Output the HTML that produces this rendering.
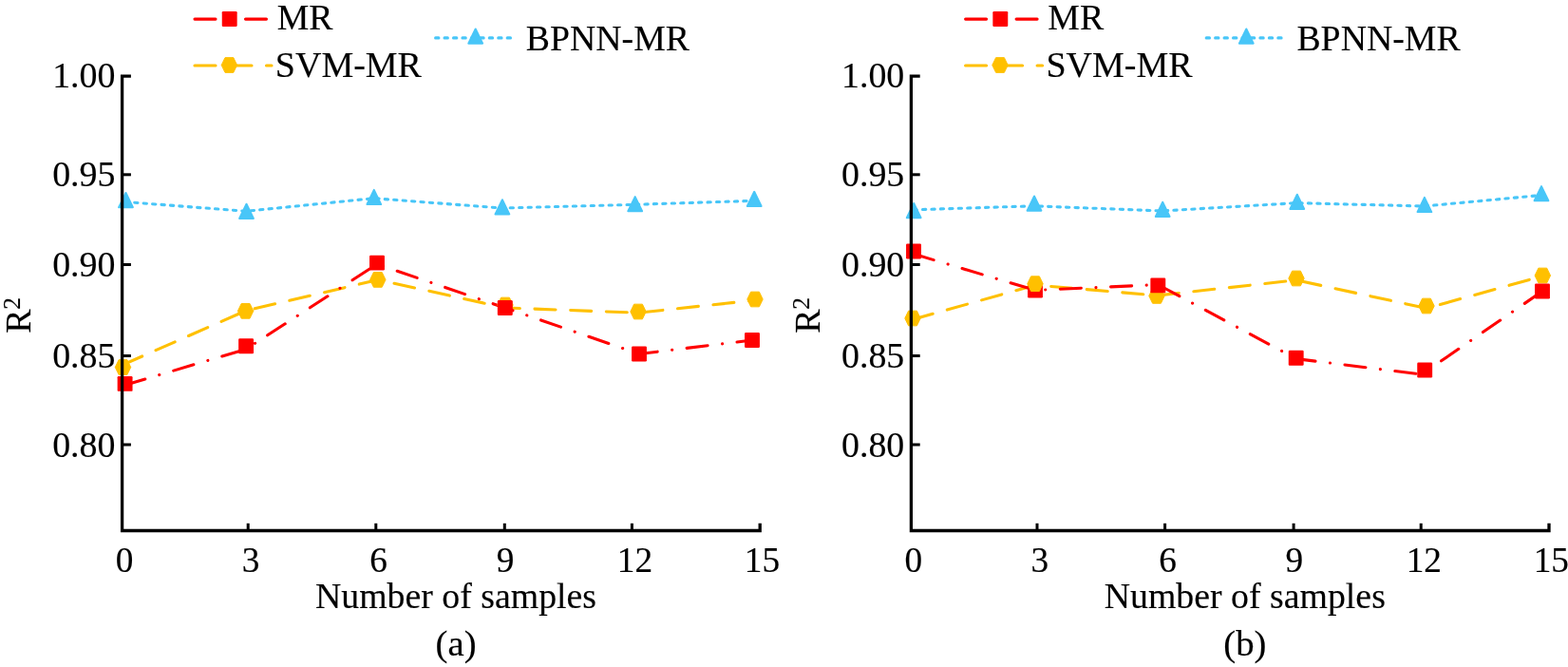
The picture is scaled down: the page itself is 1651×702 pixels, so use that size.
<!DOCTYPE html>
<html><head><meta charset="utf-8"><title>R2 vs number of samples</title>
<style>
html,body{margin:0;padding:0;background:#fff;}
body{width:1651px;height:702px;overflow:hidden;}
svg{display:block;}
text{font-family:"Liberation Serif","Times New Roman",serif;font-size:38px;fill:#000;stroke:#000;stroke-width:0.15px;}
</style></head><body>
<svg width="1651" height="702" viewBox="0 0 1651 702">
<rect width="1651" height="702" fill="#fff"/>
<g id="chart-a">
<path d="M132.30,212.50 L259.00,222.30 L393.60,208.70 L528.70,219.00 L668.50,215.30 L794.00,211.30" fill="none" stroke="#48C6F8" stroke-width="3.1" stroke-dasharray="3.3 6.15" stroke-dashoffset="0" stroke-linecap="round" stroke-linejoin="round"/>
<path d="M129.50,383.80 L259.00,327.00 L398.00,294.50 L532.00,324.00 L672.00,329.20 L795.00,316.00" fill="none" stroke="#FFC000" stroke-width="3.1" stroke-dasharray="22.0 15.7" stroke-dashoffset="0" stroke-linecap="round" stroke-linejoin="round"/>
<path d="M131.60,405.30 L259.00,367.50 L397.00,278.00 L531.80,324.00 L673.00,372.50 L792.00,358.00" fill="none" stroke="#FF0000" stroke-width="3.1" stroke-dasharray="22.1 15.55 0.1 15.55" stroke-dashoffset="0" stroke-linecap="round" stroke-linejoin="round"/>
<polygon points="132.50,203.00 139.90,218.20 125.10,218.20" fill="#48C6F8" stroke="#48C6F8" stroke-width="2" stroke-linejoin="round"/>
<polygon points="259.50,214.70 266.90,229.90 252.10,229.90" fill="#48C6F8" stroke="#48C6F8" stroke-width="2" stroke-linejoin="round"/>
<polygon points="393.80,199.90 401.20,215.10 386.40,215.10" fill="#48C6F8" stroke="#48C6F8" stroke-width="2" stroke-linejoin="round"/>
<polygon points="528.90,210.20 536.30,225.40 521.50,225.40" fill="#48C6F8" stroke="#48C6F8" stroke-width="2" stroke-linejoin="round"/>
<polygon points="668.70,207.10 676.10,222.30 661.30,222.30" fill="#48C6F8" stroke="#48C6F8" stroke-width="2" stroke-linejoin="round"/>
<polygon points="794.20,201.80 801.60,217.00 786.80,217.00" fill="#48C6F8" stroke="#48C6F8" stroke-width="2" stroke-linejoin="round"/>
<polygon points="137.70,386.50 133.90,394.35 125.10,394.35 121.30,386.50 125.10,378.65 133.90,378.65" fill="#FFC000" stroke="#FFC000" stroke-width="1" stroke-linejoin="round"/>
<polygon points="266.80,327.30 263.00,335.15 254.20,335.15 250.40,327.30 254.20,319.45 263.00,319.45" fill="#FFC000" stroke="#FFC000" stroke-width="1" stroke-linejoin="round"/>
<polygon points="406.00,294.40 402.20,302.25 393.40,302.25 389.60,294.40 393.40,286.55 402.20,286.55" fill="#FFC000" stroke="#FFC000" stroke-width="1" stroke-linejoin="round"/>
<polygon points="540.20,321.00 536.40,328.85 527.60,328.85 523.80,321.00 527.60,313.15 536.40,313.15" fill="#FFC000" stroke="#FFC000" stroke-width="1" stroke-linejoin="round"/>
<polygon points="680.20,328.00 676.40,335.85 667.60,335.85 663.80,328.00 667.60,320.15 676.40,320.15" fill="#FFC000" stroke="#FFC000" stroke-width="1" stroke-linejoin="round"/>
<polygon points="803.20,315.00 799.40,322.85 790.60,322.85 786.80,315.00 790.60,307.15 799.40,307.15" fill="#FFC000" stroke="#FFC000" stroke-width="1" stroke-linejoin="round"/>
<rect x="123.65" y="395.95" width="15.9" height="15.9" rx="1.2" fill="#FF0000"/>
<rect x="251.15" y="356.35" width="15.9" height="15.9" rx="1.2" fill="#FF0000"/>
<rect x="389.05" y="268.65" width="15.9" height="15.9" rx="1.2" fill="#FF0000"/>
<rect x="523.85" y="316.05" width="15.9" height="15.9" rx="1.2" fill="#FF0000"/>
<rect x="665.05" y="364.55" width="15.9" height="15.9" rx="1.2" fill="#FF0000"/>
<rect x="784.05" y="350.05" width="15.9" height="15.9" rx="1.2" fill="#FF0000"/>
<path d="M137.90,80.2 H128.60 V558.5 H800.20 V550.8" fill="none" stroke="#000" stroke-width="3.3" stroke-linejoin="miter"/>
<path d="M128.60,183.8 h9.3" stroke="#000" stroke-width="3" fill="none"/>
<path d="M128.60,278.5 h9.3" stroke="#000" stroke-width="3" fill="none"/>
<path d="M128.60,374.5 h9.3" stroke="#000" stroke-width="3" fill="none"/>
<path d="M128.60,468 h9.3" stroke="#000" stroke-width="3" fill="none"/>
<path d="M261.20,558.5 v-7.7" stroke="#000" stroke-width="3" fill="none"/>
<path d="M395.80,558.5 v-7.7" stroke="#000" stroke-width="3" fill="none"/>
<path d="M531.30,558.5 v-7.7" stroke="#000" stroke-width="3" fill="none"/>
<path d="M665.40,558.5 v-7.7" stroke="#000" stroke-width="3" fill="none"/>
<text transform="translate(121.50 91.60) scale(0.99 1)" text-anchor="end" style="font-size:38.3px">1.00</text>
<text transform="translate(121.50 196.40) scale(0.99 1)" text-anchor="end" style="font-size:38.3px">0.95</text>
<text transform="translate(121.50 290.60) scale(0.99 1)" text-anchor="end" style="font-size:38.3px">0.90</text>
<text transform="translate(121.50 387.00) scale(0.99 1)" text-anchor="end" style="font-size:38.3px">0.85</text>
<text transform="translate(121.50 480.50) scale(0.99 1)" text-anchor="end" style="font-size:38.3px">0.80</text>
<text transform="translate(131.00 602.30) scale(0.975 1)" text-anchor="middle" style="font-size:38.3px">0</text>
<text transform="translate(264.00 602.30) scale(0.975 1)" text-anchor="middle" style="font-size:38.3px">3</text>
<text transform="translate(398.70 602.30) scale(0.975 1)" text-anchor="middle" style="font-size:38.3px">6</text>
<text transform="translate(532.00 602.30) scale(0.975 1)" text-anchor="middle" style="font-size:38.3px">9</text>
<text transform="translate(668.50 602.30) scale(0.975 1)" text-anchor="middle" style="font-size:38.3px">12</text>
<text transform="translate(802.50 602.30) scale(0.975 1)" text-anchor="middle" style="font-size:38.3px">15</text>
<text transform="translate(480.00 639.70) scale(1.006 1)" text-anchor="middle" style="font-size:37.6px">Number of samples</text>
<text transform="translate(480.10 689.90) scale(1.03 1)" text-anchor="middle" style="font-size:37.6px">(a)</text>
<text transform="translate(32.30 350.7) rotate(-90) scale(0.995 1)" style="font-size:38px">R<tspan dx="-0.3" dy="-11" style="font-size:25.6px">2</tspan></text>
<path d="M205,20.1 H227M258.5,20.1 H280.5" stroke="#FF0000" stroke-width="3.1" stroke-linecap="round" fill="none"/>
<rect x="233.75" y="12.05" width="15.9" height="15.9" rx="1.2" fill="#FF0000"/>
<text transform="translate(291.70 31.30) scale(0.995 1)" text-anchor="start" style="font-size:38px">MR</text>
<path d="M205,69.0 H227M245,69.0 H265M280.5,69.0 H286" stroke="#FFC000" stroke-width="3.1" stroke-linecap="round" fill="none"/>
<polygon points="249.60,68.50 245.80,76.35 237.00,76.35 233.20,68.50 237.00,60.65 245.80,60.65" fill="#FFC000" stroke="#FFC000" stroke-width="1" stroke-linejoin="round"/>
<text transform="translate(289.80 80.50) scale(1.0 1)" text-anchor="start" style="font-size:38px">SVM-MR</text>
<path d="M458.6,39.9 H539.5" stroke="#48C6F8" stroke-width="3.1" stroke-dasharray="3.3 6.15" stroke-linecap="round" fill="none"/>
<polygon points="500.70,30.50 508.10,45.70 493.30,45.70" fill="#48C6F8" stroke="#48C6F8" stroke-width="2" stroke-linejoin="round"/>
<text transform="translate(553.80 52.70) scale(0.995 1)" text-anchor="start" style="font-size:38px">BPNN-MR</text>
</g>
<g id="chart-b">
<path d="M962.00,220.80 L1088.80,216.80 L1224.00,222.00 L1365.60,213.60 L1499.70,217.00 L1622.80,205.50" fill="none" stroke="#48C6F8" stroke-width="3.1" stroke-dasharray="3.3 6.15" stroke-dashoffset="0" stroke-linecap="round" stroke-linejoin="round"/>
<path d="M961.00,336.30 L1090.00,300.00 L1218.00,311.00 L1365.00,294.80 L1502.00,324.50 L1624.30,290.50" fill="none" stroke="#FFC000" stroke-width="3.1" stroke-dasharray="22.0 15.7" stroke-dashoffset="0" stroke-linecap="round" stroke-linejoin="round"/>
<path d="M962.00,267.30 L1090.00,305.50 L1219.30,299.60 L1364.70,377.60 L1497.00,394.00 L1624.00,306.50" fill="none" stroke="#FF0000" stroke-width="3.1" stroke-dasharray="22.1 15.55 0.1 15.55" stroke-dashoffset="0" stroke-linecap="round" stroke-linejoin="round"/>
<polygon points="962.20,214.00 969.60,229.20 954.80,229.20" fill="#48C6F8" stroke="#48C6F8" stroke-width="2" stroke-linejoin="round"/>
<polygon points="1089.00,206.50 1096.40,221.70 1081.60,221.70" fill="#48C6F8" stroke="#48C6F8" stroke-width="2" stroke-linejoin="round"/>
<polygon points="1224.20,212.70 1231.60,227.90 1216.80,227.90" fill="#48C6F8" stroke="#48C6F8" stroke-width="2" stroke-linejoin="round"/>
<polygon points="1365.80,204.70 1373.20,219.90 1358.40,219.90" fill="#48C6F8" stroke="#48C6F8" stroke-width="2" stroke-linejoin="round"/>
<polygon points="1499.90,207.90 1507.30,223.10 1492.50,223.10" fill="#48C6F8" stroke="#48C6F8" stroke-width="2" stroke-linejoin="round"/>
<polygon points="1623.00,196.10 1630.40,211.30 1615.60,211.30" fill="#48C6F8" stroke="#48C6F8" stroke-width="2" stroke-linejoin="round"/>
<polygon points="969.20,335.00 965.40,342.85 956.60,342.85 952.80,335.00 956.60,327.15 965.40,327.15" fill="#FFC000" stroke="#FFC000" stroke-width="1" stroke-linejoin="round"/>
<polygon points="1226.20,311.40 1222.40,319.25 1213.60,319.25 1209.80,311.40 1213.60,303.55 1222.40,303.55" fill="#FFC000" stroke="#FFC000" stroke-width="1" stroke-linejoin="round"/>
<polygon points="1373.20,293.00 1369.40,300.85 1360.60,300.85 1356.80,293.00 1360.60,285.15 1369.40,285.15" fill="#FFC000" stroke="#FFC000" stroke-width="1" stroke-linejoin="round"/>
<polygon points="1510.20,322.00 1506.40,329.85 1497.60,329.85 1493.80,322.00 1497.60,314.15 1506.40,314.15" fill="#FFC000" stroke="#FFC000" stroke-width="1" stroke-linejoin="round"/>
<polygon points="1632.50,290.00 1628.70,297.85 1619.90,297.85 1616.10,290.00 1619.90,282.15 1628.70,282.15" fill="#FFC000" stroke="#FFC000" stroke-width="1" stroke-linejoin="round"/>
<rect x="954.05" y="256.55" width="15.9" height="15.9" rx="1.2" fill="#FF0000"/>
<rect x="1082.05" y="297.55" width="15.9" height="15.9" rx="1.2" fill="#FF0000"/>
<rect x="1211.35" y="292.45" width="15.9" height="15.9" rx="1.2" fill="#FF0000"/>
<rect x="1356.75" y="368.75" width="15.9" height="15.9" rx="1.2" fill="#FF0000"/>
<rect x="1492.25" y="381.55" width="15.9" height="15.9" rx="1.2" fill="#FF0000"/>
<rect x="1616.05" y="298.55" width="15.9" height="15.9" rx="1.2" fill="#FF0000"/>
<polygon points="1098.20,298.70 1094.40,306.55 1085.60,306.55 1081.80,298.70 1085.60,290.85 1094.40,290.85" fill="#FFC000" stroke="#FFC000" stroke-width="1" stroke-linejoin="round"/>
<path d="M968.70,80.2 H959.40 V558.5 H1631.00 V550.8" fill="none" stroke="#000" stroke-width="3.3" stroke-linejoin="miter"/>
<path d="M959.40,183.8 h9.3" stroke="#000" stroke-width="3" fill="none"/>
<path d="M959.40,278.5 h9.3" stroke="#000" stroke-width="3" fill="none"/>
<path d="M959.40,374.5 h9.3" stroke="#000" stroke-width="3" fill="none"/>
<path d="M959.40,468 h9.3" stroke="#000" stroke-width="3" fill="none"/>
<path d="M1092.00,558.5 v-7.7" stroke="#000" stroke-width="3" fill="none"/>
<path d="M1226.60,558.5 v-7.7" stroke="#000" stroke-width="3" fill="none"/>
<path d="M1362.10,558.5 v-7.7" stroke="#000" stroke-width="3" fill="none"/>
<path d="M1496.20,558.5 v-7.7" stroke="#000" stroke-width="3" fill="none"/>
<text transform="translate(952.30 91.60) scale(0.99 1)" text-anchor="end" style="font-size:38.3px">1.00</text>
<text transform="translate(952.30 196.40) scale(0.99 1)" text-anchor="end" style="font-size:38.3px">0.95</text>
<text transform="translate(952.30 290.60) scale(0.99 1)" text-anchor="end" style="font-size:38.3px">0.90</text>
<text transform="translate(952.30 387.00) scale(0.99 1)" text-anchor="end" style="font-size:38.3px">0.85</text>
<text transform="translate(952.30 480.50) scale(0.99 1)" text-anchor="end" style="font-size:38.3px">0.80</text>
<text transform="translate(961.80 602.30) scale(0.975 1)" text-anchor="middle" style="font-size:38.3px">0</text>
<text transform="translate(1094.80 602.30) scale(0.975 1)" text-anchor="middle" style="font-size:38.3px">3</text>
<text transform="translate(1229.50 602.30) scale(0.975 1)" text-anchor="middle" style="font-size:38.3px">6</text>
<text transform="translate(1362.80 602.30) scale(0.975 1)" text-anchor="middle" style="font-size:38.3px">9</text>
<text transform="translate(1499.30 602.30) scale(0.975 1)" text-anchor="middle" style="font-size:38.3px">12</text>
<text transform="translate(1633.30 602.30) scale(0.975 1)" text-anchor="middle" style="font-size:38.3px">15</text>
<text transform="translate(1310.80 639.70) scale(1.006 1)" text-anchor="middle" style="font-size:37.6px">Number of samples</text>
<text transform="translate(1310.90 689.90) scale(1.03 1)" text-anchor="middle" style="font-size:37.6px">(b)</text>
<text transform="translate(863.10 350.7) rotate(-90) scale(0.995 1)" style="font-size:38px">R<tspan dx="-0.3" dy="-11" style="font-size:25.6px">2</tspan></text>
<path d="M1016.6,20.1 H1038.6M1070.1,20.1 H1092.1" stroke="#FF0000" stroke-width="3.1" stroke-linecap="round" fill="none"/>
<rect x="1045.35" y="12.05" width="15.9" height="15.9" rx="1.2" fill="#FF0000"/>
<text transform="translate(1103.30 31.30) scale(0.995 1)" text-anchor="start" style="font-size:38px">MR</text>
<path d="M1016.6,69.0 H1038.6M1056.6,69.0 H1076.6M1092.1,69.0 H1097.6" stroke="#FFC000" stroke-width="3.1" stroke-linecap="round" fill="none"/>
<polygon points="1061.20,68.50 1057.40,76.35 1048.60,76.35 1044.80,68.50 1048.60,60.65 1057.40,60.65" fill="#FFC000" stroke="#FFC000" stroke-width="1" stroke-linejoin="round"/>
<text transform="translate(1101.40 80.50) scale(1.0 1)" text-anchor="start" style="font-size:38px">SVM-MR</text>
<path d="M1270.2,39.9 H1351.1" stroke="#48C6F8" stroke-width="3.1" stroke-dasharray="3.3 6.15" stroke-linecap="round" fill="none"/>
<polygon points="1312.30,30.50 1319.70,45.70 1304.90,45.70" fill="#48C6F8" stroke="#48C6F8" stroke-width="2" stroke-linejoin="round"/>
<text transform="translate(1365.40 52.70) scale(0.995 1)" text-anchor="start" style="font-size:38px">BPNN-MR</text>
</g>
</svg>
</body></html>
